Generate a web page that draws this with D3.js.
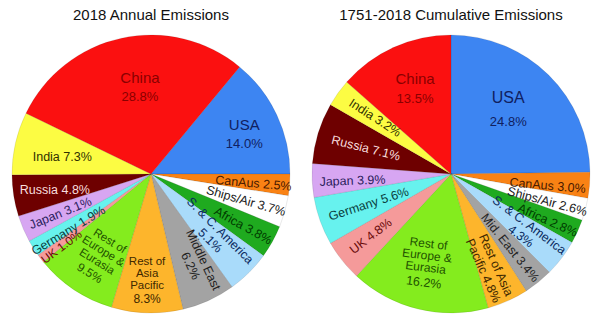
<!DOCTYPE html>
<html><head><meta charset="utf-8">
<script src="https://cdn.jsdelivr.net/npm/d3@7"></script>
<style>
html,body{margin:0;padding:0;background:#fff;}
svg{display:block;font-family:"Liberation Sans",Arial,Helvetica,sans-serif;}
</style></head>
<body><svg id="c" width="600" height="321"></svg>
<script>
// ---- data ----
const regions = ["USA","CanAus","Ships/Air","Africa","S. & C. America","Middle East","Rest of Asia Pacific","Rest of Europe & Eurasia","UK","Germany","Japan","Russia","India","China"];
const annual2018 = [14.0,2.5,3.7,3.8,5.1,6.2,8.3,9.5,1.0,1.9,3.1,4.8,7.3,28.8];
const cumulative = [24.8,3.0,2.6,2.8,4.3,3.4,4.8,16.2,4.8,5.6,3.9,7.1,3.2,13.5];
const titles = ["2018 Annual Emissions","1751-2018 Cumulative Emissions"];
// label text templates ({v} = value)
const annualLabels = [["USA","{v}"],["CanAus {v}"],["Ships/Air {v}"],["Africa {v}"],["S. & C. America","{v}"],["Middle East","{v}"],["Rest of","Asia","Pacific","{v}"],["Rest of","Europe &","Eurasia","{v}"],["UK {v}"],["Germany {v}"],["Japan {v}"],["Russia {v}"],["India {v}"],["China","{v}"]];
const cumulativeLabels = [["USA","{v}"],["CanAus {v}"],["Ships/Air {v}"],["Africa {v}"],["S. & C. America","{v}"],["Mid. East {v}"],["Rest of Asia","Pacific {v}"],["Rest of","Europe &","Eurasia","{v}"],["UK {v}"],["Germany {v}"],["Japan {v}"],["Russia {v}"],["India {v}"],["China","{v}"]];

// ---- styles ----
const fills = ["#3d85f2","#f98214","#ffffff","#1faa1f","#a9dbfa","#a3a3a3","#fdb52c","#84ec1e","#f59a9a","#67f2ee","#d7a6f2","#6e0000","#fcfc43","#fb1010"];
const textCols = ["#102060","#4a1a00","#222222","#003c00","#0a2a60","#222222","#402800","#1f5200","#6a0a0a","#0a4040","#2a1c5c","#f8dede","#303000","#8a0000"];

// label layout: angle offset (deg), radius fraction, rotation (deg), line offsets (px), font sizes
const annualLayout = [
  {off:2,f:0.73,rot:0,dy:[-9,9],fs:[15,13]},
  {off:0.5,f:0.74,rot:5,dy:[0],fs:[12.5]},
  {off:0,f:0.71,rot:16,dy:[0],fs:[12.5]},
  {off:0,f:0.76,rot:29,dy:[0],fs:[12.5]},
  {off:-1.6,f:0.64,rot:45,dy:[-7,7],fs:[12.5,12.5]},
  {off:-3,f:0.72,rot:65,dy:[-7,7],fs:[12.5,12.5]},
  {off:0.5,f:0.76,rot:0,dy:[-19,-7,5,19],fs:[11.5,11.5,11.5,12]},
  {off:-2,f:0.70,rot:32,dy:[-19,-7,5,19],fs:[11.5,11.5,11.5,12]},
  {off:-1.6,f:0.83,rot:-37,dy:[0],fs:[12]},
  {off:-2,f:0.72,rot:-31,dy:[0],fs:[12.5]},
  {off:0,f:0.71,rot:-22,dy:[0],fs:[12.5]},
  {off:0,f:0.70,rot:0,dy:[0],fs:[12.5]},
  {off:-2,f:0.65,rot:0,dy:[0],fs:[12.5]},
  {off:5,f:0.63,rot:0,dy:[-9,9],fs:[15,13]}
];
const cumulativeLayout = [
  {off:-3,f:0.62,rot:0,dy:[-12,12],fs:[16,13]},
  {off:2,f:0.70,rot:5,dy:[0],fs:[12.5]},
  {off:1,f:0.72,rot:15,dy:[0],fs:[12.5]},
  {off:1,f:0.77,rot:24,dy:[0],fs:[12.5]},
  {off:0,f:0.67,rot:37,dy:[-7,7],fs:[12.5,12.5]},
  {off:0,f:0.68,rot:51,dy:[0],fs:[12.5]},
  {off:1.6,f:0.73,rot:66,dy:[-7,7],fs:[12.5,12.5]},
  {off:2,f:0.66,rot:7,dy:[-19,-7,5,20],fs:[12,12,12,12.5]},
  {off:1,f:0.73,rot:-38,dy:[0],fs:[12.5]},
  {off:0,f:0.63,rot:-18,dy:[0],fs:[12.5]},
  {off:-1,f:0.71,rot:-2,dy:[0],fs:[12.5]},
  {off:0,f:0.64,rot:14,dy:[0],fs:[12.5]},
  {off:1,f:0.68,rot:33,dy:[0],fs:[12.5]},
  {off:1.6,f:0.67,rot:0,dy:[-9,10],fs:[15,13]}
];

const svg = d3.select("#c");
const R = 139;
const pies = [
  {cx:151, cy:174, values:annual2018, labels:annualLabels, layout:annualLayout, title:titles[0], endUSAat90:true},
  {cx:451, cy:174, values:cumulative, labels:cumulativeLabels, layout:cumulativeLayout, title:titles[1], endUSAat90:false}
];
const fmt = v => v.toFixed(1) + "%";

pies.forEach(p => {
  const total = d3.sum(p.values);
  const start = p.endUSAat90 ? Math.PI/2 - p.values[0]/total*2*Math.PI : 0;
  const pie = d3.pie().sort(null).value(d => d.v).startAngle(start).endAngle(start + 2*Math.PI);
  const data = regions.map((r,i) => ({name:r, v:p.values[i], i}));
  const arcs = pie(data);
  const arc = d3.arc().innerRadius(0).outerRadius(R);
  const g = svg.append("g").attr("transform", `translate(${p.cx},${p.cy})`);
  g.selectAll("path").data(arcs).join("path")
    .attr("d", arc)
    .attr("fill", d => fills[d.data.i])
    .attr("stroke", "rgba(0,0,0,0.18)")
    .attr("stroke-width", 0.5);
  // labels
  arcs.forEach(a => {
    const L = p.layout[a.data.i];
    const mid = (a.startAngle + a.endAngle)/2 + L.off*Math.PI/180;
    const rr = L.f * R;
    const pos = d3.arc().innerRadius(rr).outerRadius(rr).centroid({startAngle:mid, endAngle:mid});
    const t = g.append("text")
      .attr("transform", `translate(${pos[0]},${pos[1]}) rotate(${L.rot})`)
      .attr("text-anchor","middle")
      .attr("fill", textCols[a.data.i]);
    p.labels[a.data.i].forEach((ln, k) => {
      t.append("tspan").attr("x",0).attr("y", L.dy[k]).attr("dy","0.35em")
        .attr("font-size", L.fs[k] + "px")
        .text(ln.replace("{v}", fmt(a.data.v)));
    });
  });
  svg.append("text").attr("x", p.cx).attr("y", 20).attr("text-anchor","middle")
    .attr("font-size","15px").attr("fill","#111").text(p.title);
});
</script></body></html>
